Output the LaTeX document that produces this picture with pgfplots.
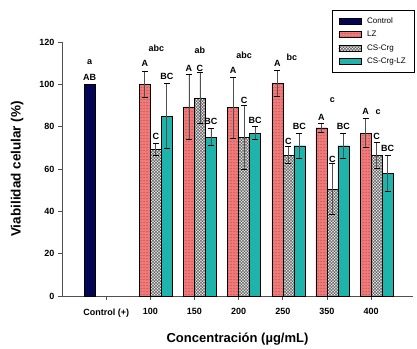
\documentclass[border=0pt]{standalone}
\usepackage{fontspec}
\setmainfont{Liberation Sans}
\usepackage{pgfplots}
\pgfplotsset{compat=1.18}
\usetikzlibrary{patterns}
\definecolor{navyc}{RGB}{5,5,85}
\definecolor{salmonc}{RGB}{240,122,122}
\definecolor{salmonp}{RGB}{165,45,45}
\definecolor{tealc}{RGB}{30,180,172}
\definecolor{axgray}{RGB}{80,80,80}
\pgfplotsset{mylegend/.style={legend image code/.code={\draw[##1] (0pt,-3pt) rectangle (22pt,3pt); \path (26pt,0pt);}}}
\pgfplotstableread{
x y e
1 100 6
2 89.4 15.5
3 89 14.5
4 100.5 6
5 79.5 2
6 77 7
}\lz
\pgfplotstableread{
x y e
1 69.3 3
2 93.4 12
3 75 15
4 66.5 4
5 50.5 12
6 66.5 6
}\cscrg
\pgfplotstableread{
x y e
1 85 15.5
2 75 4
3 77 3
4 71 6
5 71 6
6 58 8.5
}\cscrglz
\begin{document}
\begin{tikzpicture}
\begin{axis}[
  scale only axis, width=351pt, height=254pt,
  xmin=-1, xmax=6.95, ymin=0, ymax=120,
  axis lines*=left,
  axis line style={axgray, line width=0.6pt},
  ybar=0pt, bar width=11pt,
  xtick={0,...,6},
  xticklabels={Control (+),100,150,200,250,350,400},
  ytick={0,20,...,120},
  tick align=outside, major tick length=4pt,
  tick style={axgray, line width=0.6pt},
  minor tick num=0,
  /pgf/number format/assume math mode=true,
  ticklabel style={font=\bfseries\fontsize{9}{10}\selectfont},
  xticklabel style={yshift=-5pt},
  ylabel={Viabilidad celular (\%)},
  xlabel={Concentración (µg/mL)},
  y label style={at={(axis description cs:-0.128,0.5)}, anchor=center, font=\bfseries\fontsize{13.5}{15}\selectfont},
  x label style={at={(axis description cs:0.5,-0.17)}, anchor=center, font=\bfseries\fontsize{13}{15}\selectfont},
  legend style={at={(rel axis cs:1.003,1.126)}, anchor=north east, draw=black, line width=0.5pt,
    font=\fontsize{8}{9}\selectfont, row sep=2.5pt, inner xsep=6pt, inner ysep=5pt, cells={anchor=west}},
  error bars/error bar style={axgray, line width=0.8pt},
  error bars/error mark options={rotate=90, mark size=3pt, line width=0.8pt, black},
  clip=false,
]
\addplot[draw=black, line width=0.4pt, fill=navyc, mylegend] coordinates {(0,100)};
\addlegendentry{Control}
\addplot[draw=black, line width=0.4pt, fill=salmonc, postaction={pattern=dots, pattern color=salmonp}, mylegend,
  error bars/.cd, y dir=both, y explicit] table[x=x, y=y, y error=e] {\lz};
\addlegendentry{LZ}
\addplot[draw=black, line width=0.4pt, fill=gray!12, postaction={pattern=crosshatch, pattern color=black!75}, mylegend,
  error bars/.cd, y dir=both, y explicit] table[x=x, y=y, y error=e] {\cscrg};
\addlegendentry{CS-Crg}
\addplot[draw=black, line width=0.4pt, fill=tealc, mylegend,
  error bars/.cd, y dir=both, y explicit] table[x=x, y=y, y error=e] {\cscrglz};
\addlegendentry{CS-Crg-LZ}
\coordinate (O) at (rel axis cs:0,0);
\begin{scope}[font=\bfseries\fontsize{9}{10}\selectfont]
% control
\node at (axis cs:0,110.5) [xshift=-16.5pt] {a};
\node at (axis cs:0,103.5) [xshift=-16.5pt] {AB};
% 100
\node at (axis cs:1,110) [xshift=-5.5pt] {A};
\node at (axis cs:1,75.6) [xshift=5.5pt] {C};
\node at (axis cs:1,103.6) [xshift=16.5pt] {BC};
\node at (axis cs:1,117) [xshift=6pt] {abc};
% 150
\node at (axis cs:2,107.7) [xshift=-5.5pt] {A};
\node at (axis cs:2,107.7) [xshift=5.5pt] {C};
\node at (axis cs:2,82.3) [xshift=16.5pt] {BC};
\node at (axis cs:2,115.9) [xshift=5.5pt] {ab};
% 200
\node at (axis cs:3,106.4) [xshift=-5.5pt] {A};
\node at (axis cs:3,92.6) [xshift=5.5pt] {C};
\node at (axis cs:3,83.1) [xshift=16.5pt] {BC};
\node at (axis cs:3,113.8) [xshift=5.5pt] {abc};
% 250
\node at (axis cs:4,110) [xshift=-5.5pt] {A};
\node at (axis cs:4,72.9) [xshift=5.5pt] {C};
\node at (axis cs:4,80) [xshift=16.5pt] {BC};
\node at (axis cs:4,113) [xshift=9pt] {bc};
% 350
\node at (axis cs:5,84.4) [xshift=-5.5pt] {A};
\node at (axis cs:5,64.6) [xshift=5.5pt] {C};
\node at (axis cs:5,80) [xshift=16.5pt] {BC};
\node at (axis cs:5,92.6) [xshift=5.5pt] {c};
% 400
\node at (axis cs:6,87.1) [xshift=-5.5pt] {A};
\node at (axis cs:6,75.6) [xshift=5.5pt] {C};
\node at (axis cs:6,69.8) [xshift=16.5pt] {BC};
\node at (axis cs:6,87.1) [xshift=7pt] {c};
\end{scope}
\end{axis}
\path (O) ++(-62pt,-51pt) rectangle ++(417pt,347pt);
\end{tikzpicture}
\end{document}
